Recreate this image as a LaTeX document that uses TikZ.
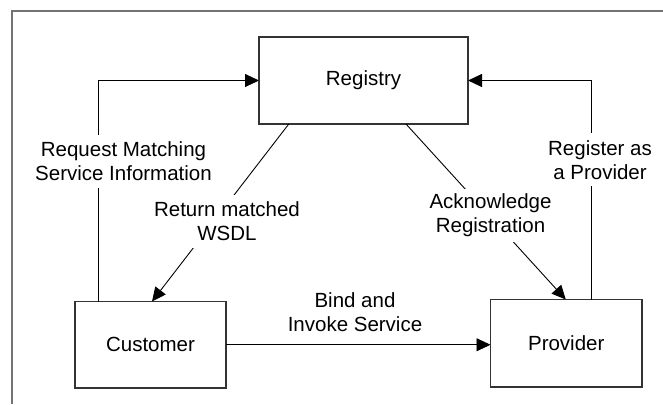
\documentclass[tikz,border=0pt]{standalone}
\usepackage{fontspec}
\setmainfont{Liberation Sans}
\usetikzlibrary{arrows.meta}
\begin{document}
\begin{tikzpicture}[x=1pt,y=-1pt,
  entity/.style={draw=black!80, line width=1.4pt, outer sep=0pt,
    font=\fontsize{20.5}{24}\selectfont},
  conn/.style={draw=black, line width=0.9pt,
    -{Triangle[length=14pt,width=13pt]}},
  msg/.style={align=center, font=\fontsize{20.5}{24}\selectfont,
    inner xsep=3pt, inner ysep=0pt},
  gapmsg/.style={msg, fill=white, minimum height=53pt}]

  % page and frame
  \useasboundingbox[fill=white] (0,0) rectangle (663,404);
  \draw[black!55, line width=1.6pt] (12,404) -- (12,11) -- (663,11);

  % participants
  \node[entity, minimum width=209pt, minimum height=87pt] (reg)  at (363.5,80.5)    {Registry};
  \node[entity, minimum width=151pt, minimum height=86.5pt] (cust) at (150.5,344.75) {Customer};
  \node[entity, minimum width=151.5pt, minimum height=87.5pt] (prov) at (566.25,343.25) {Provider};

  % interactions
  \draw[conn] ([xshift=-52.5pt]cust.north) |- (reg.west);
  \draw[conn] ([xshift=24.75pt]prov.north) |- (reg.east);
  \draw[conn] ([xshift=-74.7pt]reg.south) -- ([xshift=1.5pt]cust.north);
  \draw[conn] ([xshift=42.5pt]reg.south) -- ([xshift=-0.5pt]prov.north);
  \draw[conn] (cust.east) -- (cust.east -| prov.west);

  % message labels
  \node[gapmsg] (lreq)  at (123.5,161.4) {Request Matching\\Service Information};
  \node[gapmsg] (lprov) at (600,159.8)   {Register as\\a Provider};
  \node[gapmsg] (lret)  at (227,221.3)   {Return matched\\WSDL};
  \node[gapmsg] (lack)  at (490.5,215.5) {Acknowledge\\Registration};
  \node[msg]    (lbind) at (355,312.5)   {Bind and\\Invoke Service};
\end{tikzpicture}
\end{document}
